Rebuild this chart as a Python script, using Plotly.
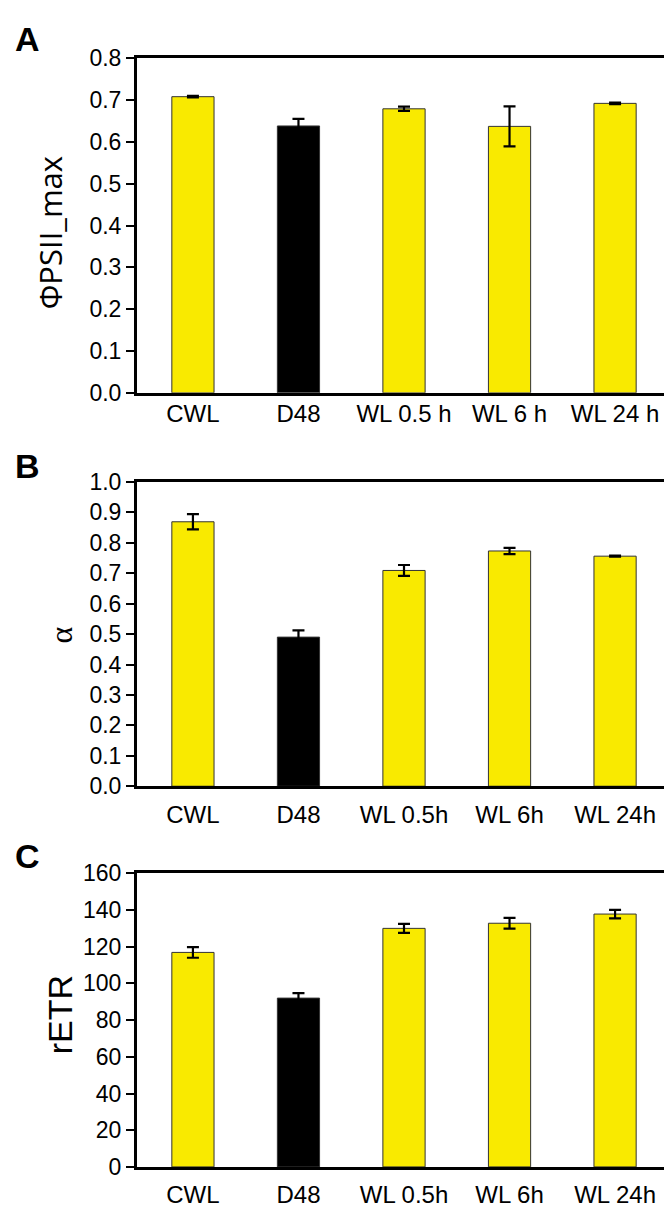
import plotly.graph_objects as go

W, H = 672, 1213

categories_a = ["CWL", "D48", "WL 0.5 h", "WL 6 h", "WL 24 h"]
categories_bc = ["CWL", "D48", "WL 0.5h", "WL 6h", "WL 24h"]

psii_max = [0.708, 0.638, 0.679, 0.637, 0.692]
psii_err = [0.002, 0.017, 0.005, 0.048, 0.002]

alpha = [0.869, 0.490, 0.709, 0.773, 0.756]
alpha_err = [0.025, 0.022, 0.018, 0.010, 0.002]

retr = [116.9, 92.0, 130.0, 132.8, 137.8]
retr_err = [2.9, 2.7, 2.4, 2.9, 2.3]

yellow = "#F9EA00"
bar_colors = [yellow, "#000000", yellow, yellow, yellow]

FONT = "Liberation Sans, Arial, sans-serif"

fig = go.Figure()

panels = [
    (categories_a, psii_max, psii_err, "", "y"),
    (categories_bc, alpha, alpha_err, "2", "y2"),
    (categories_bc, retr, retr_err, "3", "y3"),
]
for cats, vals, errs, sfx, yref in panels:
    fig.add_trace(go.Bar(
        x=list(range(len(cats))), y=vals,
        width=0.4,
        marker=dict(color=bar_colors, line=dict(color="#333333", width=1)),
        error_y=dict(type="data", array=errs, color="black", thickness=2.2, width=6),
        xaxis="x" + sfx, yaxis=yref, showlegend=False,
    ))

# pixel boxes of the three plot areas (top, bottom)
boxes = [(38, 380), (471, 782), (871, 1171)]
x_dom = [129 / W, 663 / W]
yranges = [[0, 0.8], [0, 1.0], [0, 160]]
ydticks = [0.1, 0.1, 20]
tickfmt = [".1f", ".1f", "d"]
standoff = [-3, 5, 4]
cat_sets = [categories_a, categories_bc, categories_bc]

axis_line = dict(showline=True, linecolor="black", linewidth=3, mirror=True,
                 showgrid=False, zeroline=False)

for i, (top, bot) in enumerate(boxes):
    sfx = "" if i == 0 else str(i + 1)
    fig.update_layout(**{
        "xaxis" + sfx: dict(
            domain=x_dom, range=[-0.53, 4.53], anchor="y" + sfx,
            tickmode="array", tickvals=list(range(5)), ticktext=cat_sets[i],
            ticks="", ticklabelstandoff=standoff[i],
            tickfont=dict(family=FONT, size=24, color="black"),
            **axis_line),
        "yaxis" + sfx: dict(
            domain=[1 - bot / H, 1 - top / H], range=yranges[i], anchor="x" + sfx,
            dtick=ydticks[i], tick0=0, tickformat=tickfmt[i],
            ticks="outside", ticklen=8, tickwidth=2, tickcolor="black",
            tickfont=dict(family=FONT, size=23, color="black"),
            **axis_line),
    })

annotations = []
for letter, y in [("A", 18), ("B", 455), ("C", 853)]:
    annotations.append(dict(text="<b>" + letter + "</b>", x=19 / W, y=1 - y / H,
                            xref="paper", yref="paper", showarrow=False,
                            xanchor="center", yanchor="middle",
                            font=dict(family=FONT, size=34, color="black")))

titles = [("ΦPSII_max", 42, 217, "Open Sans, sans-serif", 31),
          ("α", 53, 628, "Liberation Serif, serif", 32),
          ("rETR", 52, 1016, FONT, 34)]
for text, x, y, fam, size in titles:
    annotations.append(dict(text=text, x=x / W, y=1 - y / H, xref="paper", yref="paper",
                            showarrow=False, textangle=-90,
                            xanchor="center", yanchor="middle",
                            font=dict(family=fam, size=size, color="black")))

fig.update_layout(
    width=W, height=H,
    margin=dict(l=0, r=0, t=0, b=0),
    paper_bgcolor="white", plot_bgcolor="white",
    annotations=annotations,
)

fig.write_html("out.html")
